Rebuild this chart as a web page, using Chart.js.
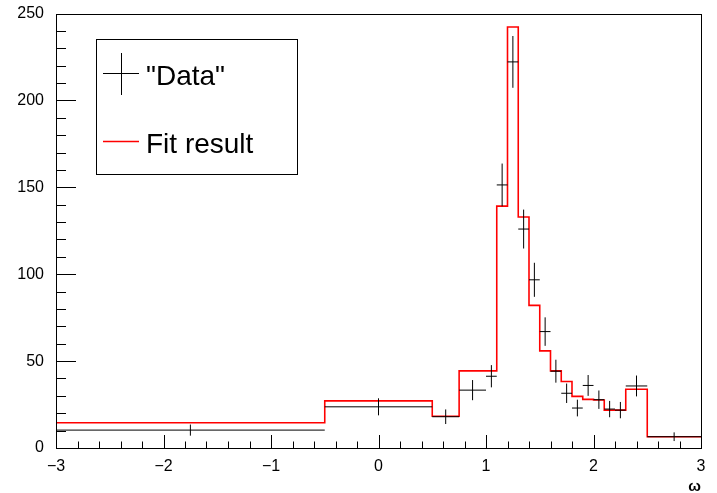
<!DOCTYPE html>
<html>
<head>
<meta charset="utf-8">
<script src="https://cdn.jsdelivr.net/npm/chart.js@4/dist/chart.umd.min.js"></script>
<style>
  html, body { margin: 0; padding: 0; background: #fff; }
  #wrap { width: 717px; height: 493px; position: relative; }
</style>
</head>
<body>
<div id="wrap"><canvas id="c" width="717" height="493"></canvas></div>
<script>
// ---- Data ----
const dataEdges  = [-3, -0.5, 0.5, 0.75, 1.0, 1.1, 1.2, 1.3, 1.4, 1.5, 1.6, 1.7, 1.8, 1.9, 2.0, 2.1, 2.2, 2.3, 2.5, 3];
const dataValues = [10.3, 23.7, 18.0, 33.3, 41.3, 151.4, 222.2, 126.0, 96.8, 67.0, 44.2, 31.5, 23.0, 36.0, 27.8, 22.4, 21.8, 35.7, 6.5];
const dataErrors = [3.2, 4.9, 4.2, 5.8, 6.4, 12.3, 14.9, 11.2, 9.8, 8.2, 6.6, 5.6, 4.8, 6.0, 5.3, 4.7, 4.7, 6.0, 2.5];

const fitEdges  = [-3, -0.5, 0.5, 0.75, 1.1, 1.2, 1.3, 1.4, 1.5, 1.6, 1.7, 1.8, 1.9, 2.0, 2.1, 2.3, 2.5, 3];
const fitValues = [14.5, 27.1, 18.3, 44.4, 139.2, 242.3, 132.9, 82.1, 55.9, 44.4, 38.3, 29.7, 28.0, 27.6, 21.8, 33.8, 6.5];

const xTickLabels = [-3, -2, -1, 0, 1, 2, 3];
const yTickLabels = [0, 50, 100, 150, 200, 250];
const xAxisTitle = 'ω';
const legendLabels = ['"Data"', 'Fit result'];

// ---- Build datasets ----
const crossPoints = [];
for (let i = 0; i < dataValues.length; i++) {
  const lo = dataEdges[i], hi = dataEdges[i + 1], c = (lo + hi) / 2;
  const v = dataValues[i], e = dataErrors[i];
  crossPoints.push({x: lo, y: v}, {x: hi, y: v}, {x: hi, y: null});
  crossPoints.push({x: c, y: v - e}, {x: c, y: v + e}, {x: c, y: null});
}
const fitPoints = fitValues.map((v, i) => ({x: fitEdges[i], y: v}));
fitPoints.push({x: fitEdges[fitEdges.length - 1], y: fitValues[fitValues.length - 1]});

const isNear = (v, arr) => arr.some(t => Math.abs(t - v) < 1e-6);
const fmt = v => (v < 0 ? '\u2212' + Math.abs(Math.round(v)) : String(Math.round(v)));

const FONT = "'Liberation Sans', Arial, Helvetica, sans-serif";

const rootPlugin = {
  id: 'rootStyle',
  afterDraw(chart) {
    const ctx = chart.ctx;
    const a = chart.chartArea;
    const xs = chart.scales.x, ys = chart.scales.y;
    ctx.save();
    ctx.strokeStyle = '#000';
    ctx.lineWidth = 1;
    // frame
    ctx.strokeRect(Math.round(a.left) + 0.5, Math.round(a.top) + 0.5,
                   Math.round(a.right - a.left), Math.round(a.bottom - a.top));
    // inward ticks
    ctx.beginPath();
    xs.ticks.forEach(t => {
      const px = Math.round(xs.getPixelForValue(t.value)) + 0.5;
      const len = isNear(t.value, xTickLabels) ? 13 : 6.5;
      ctx.moveTo(px, a.bottom);
      ctx.lineTo(px, a.bottom - len);
    });
    ys.ticks.forEach(t => {
      const py = Math.round(ys.getPixelForValue(t.value)) + 0.5;
      const len = isNear(t.value, yTickLabels) ? 20 : 10;
      ctx.moveTo(a.left, py);
      ctx.lineTo(a.left + len, py);
    });
    ctx.stroke();

    // legend box
    const bx = 96.5, by = 39.5, bw = 201, bh = 135;
    ctx.fillStyle = '#fff';
    ctx.fillRect(bx, by, bw, bh);
    ctx.strokeRect(bx, by, bw, bh);
    // data marker (cross)
    ctx.beginPath();
    ctx.moveTo(103, 73.5); ctx.lineTo(139, 73.5);
    ctx.moveTo(121.5, 53); ctx.lineTo(121.5, 95);
    ctx.stroke();
    // fit marker
    ctx.strokeStyle = '#ff0000';
    ctx.lineWidth = 1.5;
    ctx.beginPath();
    ctx.moveTo(103, 141.5); ctx.lineTo(139, 141.5);
    ctx.stroke();
    // legend text
    ctx.fillStyle = '#000';
    ctx.font = '28px ' + FONT;
    ctx.textAlign = 'left';
    ctx.textBaseline = 'alphabetic';
    ctx.fillText(legendLabels[0], 146, 85);
    ctx.fillText(legendLabels[1], 146, 153);
    ctx.restore();
  }
};

new Chart(document.getElementById('c'), {
  type: 'line',
  data: {
    datasets: [
      {
        label: 'Data',
        data: crossPoints,
        borderColor: '#000',
        borderWidth: 1,
        pointRadius: 0,
        spanGaps: false,
        tension: 0,
        order: 0
      },
      {
        label: 'Fit result',
        data: fitPoints,
        borderColor: '#ff0000',
        borderWidth: 1.6,
        pointRadius: 0,
        stepped: 'before',
        order: 1
      }
    ]
  },
  options: {
    responsive: false,
    animation: false,
    devicePixelRatio: 1,
    layout: { padding: { top: 12, right: 16, left: 0, bottom: 0 } },
    plugins: { legend: { display: false }, tooltip: { enabled: false } },
    scales: {
      x: {
        type: 'linear',
        min: -3, max: 3,
        grid: { display: false },
        border: { display: false },
        ticks: {
          stepSize: 0.2,
          autoSkip: false,
          maxRotation: 0,
          padding: 1,
          color: '#000',
          font: { family: FONT, size: 16 },
          callback: v => isNear(v, xTickLabels) ? fmt(v) : ''
        },
        title: {
          display: true,
          text: xAxisTitle,
          align: 'end',
          color: '#000',
          font: { family: FONT, size: 15, weight: 'bold' },
          padding: { top: 2, bottom: -3 }
        },
        afterFit(scale) { scale.height = 45; }
      },
      y: {
        type: 'linear',
        min: 0, max: 250,
        grid: { display: false },
        border: { display: false },
        ticks: {
          stepSize: 10,
          autoSkip: false,
          padding: 4,
          color: '#000',
          font: { family: FONT, size: 16 },
          callback: v => isNear(v, yTickLabels) ? fmt(v) : ''
        },
        afterFit(scale) { scale.width = 56; }
      }
    }
  },
  plugins: [rootPlugin]
});
</script>
</body>
</html>
